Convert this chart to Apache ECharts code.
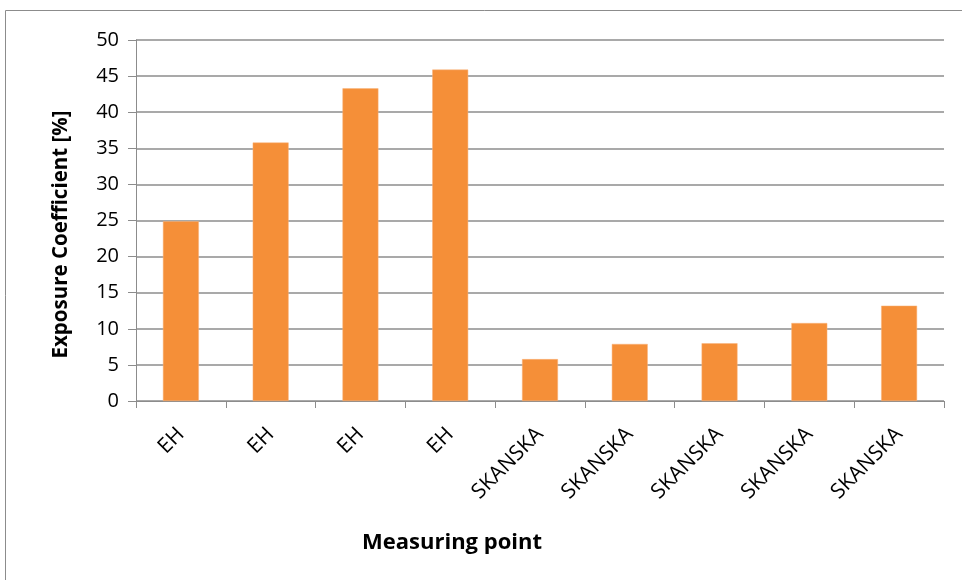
<!DOCTYPE html>
<html><head><meta charset="utf-8">
<script src="https://cdn.jsdelivr.net/npm/echarts@6/dist/echarts.min.js"></script>
<style>html,body{margin:0;padding:0;background:#fff}#c{width:962px;height:580px}</style>
</head><body><div id="c"></div>
<script>
var categories = ['EH','EH','EH','EH','SKANSKA','SKANSKA','SKANSKA','SKANSKA','SKANSKA'];
var values = [24.9, 35.8, 43.3, 45.9, 5.8, 7.9, 8.0, 10.8, 13.2];
var yTicks = [0,5,10,15,20,25,30,35,40,45,50];
var chart = echarts.init(document.getElementById('c'));
var font = '"Open Sans", Lato, sans-serif';
chart.setOption({
  animation:false,
  graphic:[{type:'rect',shape:{x:5.5,y:10.5,width:1000,height:600},style:{fill:'none',stroke:'#8c8c8c',lineWidth:1}}],
  grid:{left:136,right:18,top:40,bottom:179,containLabel:false},
  xAxis:{type:'category',data:categories,
    name:'Measuring point',nameLocation:'middle',nameGap:131,
    nameTextStyle:{fontFamily:font,fontWeight:'bold',fontSize:22,color:'#000',padding:[0,176,0,0]},
    axisLine:{lineStyle:{color:'#8c8c8c',width:1}},
    axisTick:{show:true,length:7,lineStyle:{color:'#8c8c8c'}},
    axisLabel:{rotate:45,fontFamily:font,fontSize:21,color:'#000',margin:30,interval:0}},
  yAxis:{type:'value',min:0,max:50,interval:5,
    name:'Exposure Coefficient [%]',nameLocation:'middle',nameGap:64,
    nameTextStyle:{fontFamily:font,fontWeight:'bold',fontSize:20.5,color:'#000',padding:[0,28,0,0]},
    axisLine:{show:true,lineStyle:{color:'#8c8c8c',width:1}},
    axisTick:{show:true,length:8,lineStyle:{color:'#8c8c8c'}},
    axisLabel:{fontFamily:font,fontSize:20,color:'#000',margin:17,
      formatter:function(v){return yTicks.indexOf(v)>=0?String(v):'';}},
    splitLine:{lineStyle:{color:'#8c8c8c',width:1.5}}},
  series:[{type:'bar',data:values,barWidth:'40%',
    itemStyle:{color:'#f58f38',borderColor:'#f9b27a',borderWidth:0.5}}]
});
</script></body></html>
